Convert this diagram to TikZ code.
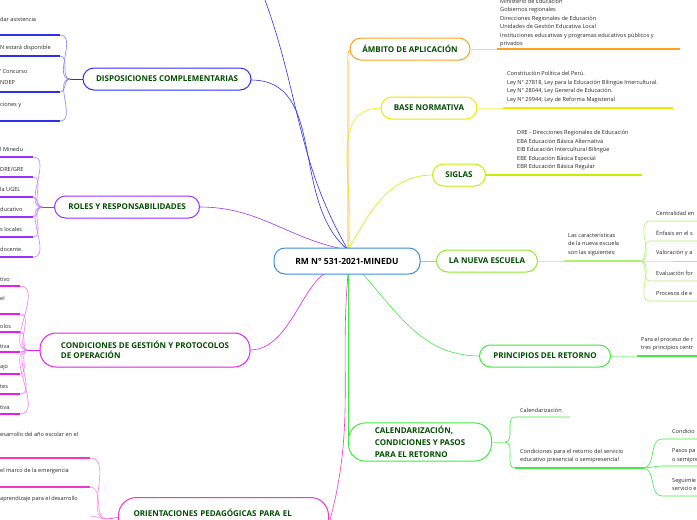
\documentclass[tikz,border=0pt]{standalone}
\usepackage{fontspec}
\setmainfont{Open Sans}
\begin{document}
\begin{tikzpicture}[x=1pt,y=-1pt,
  main/.style={draw,line width=1pt,rounded corners=11pt,fill=white,font=\fontsize{8}{10}\selectfont\bfseries,text=green!30!black,inner xsep=9pt,align=left},
  txt/.style={anchor=west,font=\fontsize{5.6}{8.5}\selectfont,align=left,inner sep=0pt,text=black!85},
  ul/.style={line width=1.2pt},
  br/.style={line width=0.6pt}]
\useasboundingbox (0,0) rectangle (697,520);
\definecolor{cOr}{HTML}{FF9F1C}\definecolor{cYe}{HTML}{F2E600}\definecolor{cYg}{HTML}{C4F000}
\definecolor{cLg}{HTML}{8CEB2E}\definecolor{cGr}{HTML}{3CEB3C}\definecolor{cBl}{HTML}{2F2FEE}
\definecolor{cPu}{HTML}{9B30FF}\definecolor{cMa}{HTML}{E21EF0}\definecolor{cPk}{HTML}{F535C8}
\definecolor{cRoot}{HTML}{3C8DD8}
\coordinate (r) at (348,250);
\coordinate (rb) at (348,274);
% branches from root
\draw[br,cBl] (r) to[out=120,in=-70] (265,0) coordinate (topb);
\draw[br,cBl] (r) to[out=140,in=0] (251,80);
\draw[br,cPu] (r) to[out=170,in=0] (200,207);
\draw[br,cMa] (rb) to[out=150,in=0] (250,350);
\draw[br,cPk] (rb) to[out=-95,in=75] (330,520);
\draw[br,cOr] (r) -- (348,62) to[out=90,in=180] (352,49);
\draw[br,cYe] (r) to[out=80,in=180] (381,108);
\draw[br,cYg] (r) to[out=60,in=180] (433,175);
\draw[br,cLg] (420,261) -- (437,261);
\draw[br,cGr] (348,258) to[out=-45,in=180] (480,356);
\draw[br,cGr] (rb) -- (348,440);
% root
\node[main,draw=cRoot,text=black,font=\fontsize{8.5}{10}\selectfont\bfseries,minimum height=26pt,minimum width=146pt] (root) at (347,261) {RM N° 531-2021-MINEDU};
% ambito
\node[main,draw=cOr,minimum height=22pt,minimum width=120pt] (amb) at (410,49) {ÁMBITO DE APLICACIÓN};
\draw[br,cOr!50] (amb.east) -- (497,49);
\draw[ul,cOr] (497,49) -- (680,49);
\node[txt] at (500,23) {Ministerio de Educación\\Gobiernos regionales\\Direcciones Regionales de Educación\\Unidades de Gestión Educativa Local\\Instituciones educativas y programas educativos públicos y\\privados};
% base
\node[main,draw=cYe,minimum height=22pt,minimum width=96pt] (bas) at (429,108) {BASE NORMATIVA};
\draw[br,cYe!50] (bas.east) -- (503,108);
\draw[ul,cYe] (503,108) -- (673,108);
\node[txt] at (507,87) {Constitución Política del Perú.\\Ley N° 27818, Ley para la Educación Bilingüe Intercultural.\\Ley N° 28044, Ley General de Educación.\\Ley N° 29944, Ley de Reforma Magisterial};
% siglas
\node[main,draw=cYg,minimum height=22pt,minimum width=53pt] (sig) at (459,175) {SIGLAS};
\draw[br,cYg!50] (sig.east) -- (486,175);
\draw[ul,cYg] (486,175) -- (642,175);
\node[txt] at (517,150.5) {DRE - Direcciones Regionales de Educación\\EBA Educación Básica Alternativa\\EIB Educación Intercultural Bilingüe\\EBE Educación Básica Especial\\EBR Educación Básica Regular};
% nueva escuela
\node[main,draw=cLg,minimum height=22pt,minimum width=101pt] (nue) at (487,261) {LA NUEVA ESCUELA};
\draw[br,cLg!50] (nue.east) -- (564,261);
\draw[ul,cLg!70] (564,261) -- (640,261) coordinate (nj);
\node[txt] at (568,244.5) {Las características\\de la nueva escuela\\son las siguientes:};
\foreach \y/\t in {221/Centralidad en,241/Énfasis en el s,261/Valoración y a,281/Evaluación for,301/Procesos de e}{
  \draw[br,cLg!70] (nj) to[out=0,in=180] (650,\y) -- (697,\y);
  \node[txt] at (656,\y-8) {\t};}
% principios
\node[main,draw=cGr,minimum height=22pt,minimum width=131pt] (pri) at (545,356) {PRINCIPIOS DEL RETORNO};
\draw[br,cGr!40] (pri.east) -- (637,356);
\draw[ul,cGr] (637,356) -- (697,356);
\node[txt] at (641,344) {Para el proceso de r\\tres principios centr};
% calendarizacion
\node[main,draw=cGr,minimum height=36pt,minimum width=143pt,rounded corners=17pt,inner xsep=18pt,font=\fontsize{8}{12}\selectfont\bfseries] (cal) at (420,442) {CALENDARIZACIÓN,\\CONDICIONES Y PASOS\\PARA EL RETORNO};
\coordinate (cj) at (505,442);
\draw[br,cGr!50] (cal.east) -- (cj);
\draw[br,cGr] (cj) to[out=0,in=180] (515,417) -- (570,417);
\node[txt] at (520,410) {Calendarización};
\draw[br,cGr] (cj) to[out=0,in=180] (515,468);
\draw[ul,cGr] (515,468) -- (643,468) coordinate (cj2);
\node[txt] at (520,456) {Condiciones para el retorno del servicio\\educativo presencial o semipresencial};
\foreach \y in {439,466,496}{\draw[br,cGr] (cj2) to[out=0,in=180] (662,\y) -- (697,\y);}
\node[txt] at (672,431) {Condicio};
\node[txt] at (672,455.5) {Pasos pa\\o semipre};
\node[txt] at (672,484.5) {Seguimie\\servicio e};
% disposiciones
\node[main,draw=cBl,minimum height=22pt,minimum width=168pt] (dis) at (167,79) {DISPOSICIONES COMPLEMENTARIAS};
\draw[br,cBl] (dis.west) -- (70,79) coordinate (dj);
\foreach \y in {35,56,92,121}{\draw[br,cBl!60] (dj) to[out=180,in=0] (60,\y);\draw[ul,cBl] (60,\y) -- (0,\y);}
\node[txt] at (0,19) {dar asistencia};
\node[txt] at (0,48) {N estará disponible};
\node[txt] at (0,77) {' Concurso\\[2pt]NDEP};
\node[txt] at (0,105) {ciones y};
% roles
\node[main,draw=cPu,minimum height=22pt,minimum width=145pt] (rol) at (127,207) {ROLES Y RESPONSABILIDADES};
\draw[br,cPu] (rol.west) -- (42,207) coordinate (rj);
\foreach \y/\t in {157/{l Minedu},177/{DRE/GRE},197/{la UGEL},217/{ducativo},237/{s locales},257/{docente.}}{
  \draw[br,cPu!60] (rj) to[out=180,in=0] (33,\y);\draw[ul,cPu] (33,\y) -- (0,\y);
  \node[txt] at (0,\y-8) {\t};}
% condiciones de gestion
\node[main,draw=cMa,minimum height=34pt,minimum width=210pt,rounded corners=16pt,inner xsep=18pt] (con) at (145,350) {CONDICIONES DE GESTIÓN Y PROTOCOLOS\\DE OPERACIÓN};
\draw[br,cMa] (con.west) -- (28,350) coordinate (mj);
\foreach \y in {286,314,332,352,374,394,414}{\draw[br,cMa!60] (mj) to[out=180,in=0] (20,\y);\draw[ul,cMa] (20,\y) -- (0,\y);}
\foreach \y/\t in {279/tivo,298/el,326/olos,346/tiva,367/ajo,387/tes,407/tiva}{\node[txt] at (0,\y) {\t};}
% orientaciones
\node[main,draw=cPk,minimum height=40pt,text width=180pt,rounded corners=18pt,inner xsep=15pt,anchor=north west] (ori) at (118,497) {ORIENTACIONES PEDAGÓGICAS PARA EL\\DESARROLLO DE COMPETENCIAS};
\coordinate (oj) at (107,519);
\draw[br,cPk] (ori.west) -- (oj);
\foreach \y in {458,487}{\draw[br,cPk!60] (oj) to[out=180,in=0] (90,\y);\draw[ul,cPk] (90,\y) -- (0,\y);}
\draw[br,cPk!60] (oj) to[out=180,in=0] (90,516);
\node[txt] at (0,434) {esarrollo del año escolar en el};
\node[txt] at (0,471) {el marco de la emergencia};
\node[txt] at (0,499) {aprendizaje para el desarrollo};
\end{tikzpicture}
\end{document}
